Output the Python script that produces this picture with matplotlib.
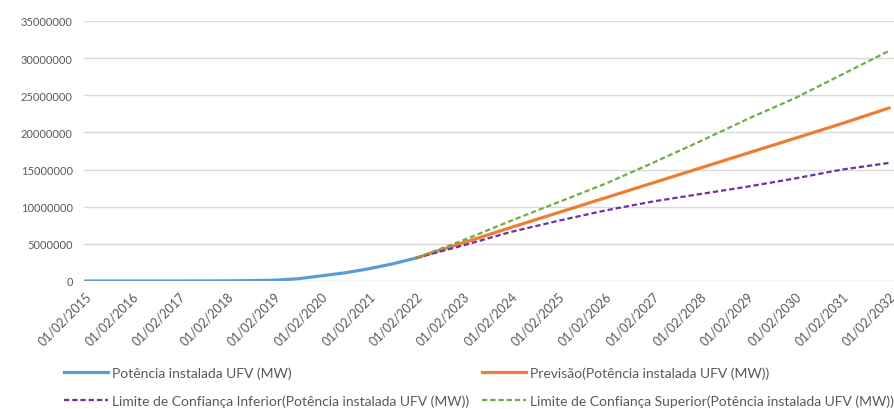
import matplotlib
matplotlib.use("Agg")
import matplotlib.pyplot as plt
import matplotlib.dates as mdates
import numpy as np
import pandas as pd
from matplotlib.lines import Line2D

plt.rcParams["font.family"] = ["Lato", "DejaVu Sans"]

# Installed capacity (observed), half-yearly readings
obs_dates = pd.to_datetime([
    "2015-02-01", "2015-08-01", "2016-02-01", "2016-08-01", "2017-02-01",
    "2017-08-01", "2018-02-01", "2018-08-01", "2019-02-01", "2019-08-01",
    "2020-02-01", "2020-08-01", "2021-02-01", "2021-08-01", "2022-02-01",
])
obs_values = [0, 0, 0, 0, 0,
              5000, 20000, 50000, 100000, 300000,
              700000, 1100000, 1650000, 2300000, 3100000]

# Forecast and confidence bounds, yearly
fc_dates = pd.to_datetime([f"{y}-02-01" for y in range(2022, 2033)])
fc_values = [3100000, 5150000, 7200000, 9200000, 11200000, 13200000,
             15200000, 17200000, 19200000, 21200000, 23300000]
fc_lower = [3100000, 4800000, 6600000, 8100000, 9500000, 10700000,
            11700000, 12700000, 13800000, 15000000, 15900000]
fc_upper = [3100000, 5500000, 8100000, 10600000, 13100000, 15900000,
            18800000, 21800000, 24600000, 27800000, 31000000]

labels = [
    "Potência instalada UFV (MW)",
    "Previsão(Potência instalada UFV (MW))",
    "Limite de Confiança Inferior(Potência instalada UFV (MW))",
    "Limite de Confiança Superior(Potência instalada UFV (MW))",
]
colors = ["#5B9BD5", "#ED7D31", "#7030A0", "#70AD47"]
text_color = "#595959"

fig = plt.figure(figsize=(8.94, 4.10), dpi=100)
ax = fig.add_axes([84 / 894, 1 - 282 / 410, 810 / 894, 260 / 410])

ax.plot(obs_dates, obs_values, color=colors[0], lw=2.3, solid_capstyle="round", zorder=3)
ax.plot(fc_dates, fc_values, color=colors[1], lw=2.3, solid_capstyle="round", zorder=4)
ax.plot(fc_dates, fc_lower, color=colors[2], lw=1.6, dashes=(2.4, 1.3), zorder=5)
ax.plot(fc_dates, fc_upper, color=colors[3], lw=1.6, dashes=(2.4, 1.3), zorder=5)

ax.set_ylim(0, 35000000)
ax.set_yticks(np.arange(0, 35000001, 5000000))
ax.yaxis.set_major_formatter(matplotlib.ticker.FuncFormatter(lambda v, p: f"{int(v)}"))
ax.set_xlim(pd.Timestamp("2015-01-25"), pd.Timestamp("2032-03-08"))
ax.xaxis.set_major_locator(mdates.YearLocator(month=2, day=1))
ax.xaxis.set_major_formatter(mdates.DateFormatter("%d/%m/%Y"))

ax.grid(axis="y", color="#D9D9D9", lw=1.0)
ax.set_axisbelow(True)
for s in ax.spines.values():
    s.set_visible(False)
ax.tick_params(axis="both", length=0, colors=text_color)
ax.tick_params(axis="y", pad=8, labelsize=8)
ax.tick_params(axis="x", pad=6, labelsize=9)
for lab in ax.get_xticklabels():
    lab.set_rotation(45)
    lab.set_ha("right")
    lab.set_va("top")
    lab.set_rotation_mode("anchor")

handles = [
    Line2D([], [], color=colors[0], lw=2.3),
    Line2D([], [], color=colors[2], lw=1.6, dashes=(2.4, 1.3)),
    Line2D([], [], color=colors[1], lw=2.3),
    Line2D([], [], color=colors[3], lw=1.6, dashes=(2.4, 1.3)),
]
leg_labels = [labels[0], labels[2], labels[1], labels[3]]
leg = fig.legend(handles, leg_labels, loc="upper left", bbox_to_anchor=(58 / 894, 1 - 362 / 410),
                 ncol=2, frameon=False, fontsize=10, handlelength=3.2, handletextpad=0.3,
                 columnspacing=0.9, labelspacing=1.1, borderaxespad=0)
for t in leg.get_texts():
    t.set_color(text_color)

fig.savefig("out.png", dpi=100)
